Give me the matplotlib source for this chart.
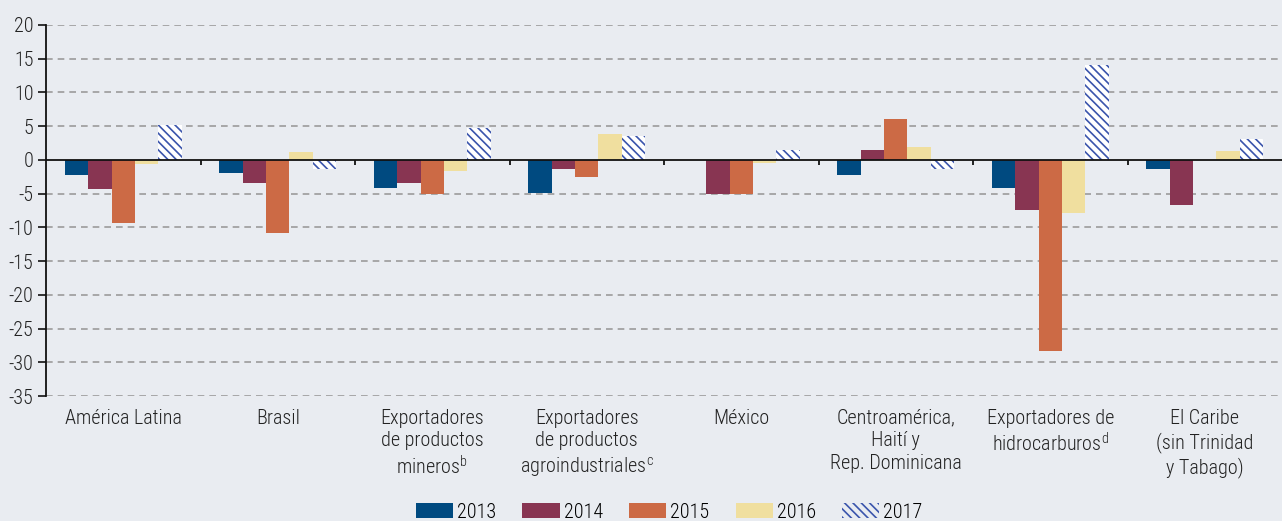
import matplotlib
matplotlib.use("Agg")
import matplotlib.pyplot as plt
import numpy as np

categories = [
    "América Latina",
    "Brasil",
    "Exportadores\nde productos\nmineros$^{\\mathregular{b}}$",
    "Exportadores\nde productos\nagroindustriales$^{\\mathregular{c}}$",
    "México",
    "Centroamérica,\nHaití y\nRep. Dominicana",
    "Exportadores de\nhidrocarburos$^{\\mathregular{d}}$",
    "El Caribe\n(sin Trinidad\ny Tabago)",
]
years = ["2013", "2014", "2015", "2016", "2017"]
v2013 = [-2.3, -2.0, -4.1, -4.9, 0.0, -2.3, -4.1, -1.3]
v2014 = [-4.3, -3.4, -3.4, -1.3, -5.0, 1.4, -7.5, -6.7]
v2015 = [-9.4, -10.9, -5.0, -2.5, -5.0, 6.0, -28.4, 0.0]
v2016 = [-0.6, 1.1, -1.6, 3.9, -0.4, 1.9, -7.9, 1.3]
v2017 = [5.2, -1.3, 4.8, 3.6, 1.5, -1.4, 14.0, 3.1]
yticks = [20, 15, 10, 5, 0, -5, -10, -15, -20, -25, -30, -35]

series = [v2013, v2014, v2015, v2016, v2017]
colors = ["#004A80", "#883552", "#CC6A45", "#F0DF9F", "white"]

FONT = ["Roboto Condensed", "DejaVu Sans"]
plt.rcParams["font.family"] = FONT
plt.rcParams["font.weight"] = "light"
plt.rcParams["hatch.linewidth"] = 1.2

bg = "#E9ECF1"
fig = plt.figure(figsize=(12.82, 5.21), dpi=100, facecolor=bg)
ax = fig.add_axes([46 / 1282, 1 - 396 / 521, 1 - 46 / 1282, 371 / 521])
ax.set_facecolor(bg)

x = np.arange(len(categories))
w = 0.152
for i, (vals, yr, c) in enumerate(zip(series, years, colors)):
    off = (i - 2) * w
    if yr == "2017":
        ax.bar(x + off, vals, w, facecolor=c, edgecolor="#3A55AC", hatch="\\\\\\\\",
               linewidth=0, label=yr, zorder=3)
    else:
        ax.bar(x + off, vals, w, color=c, linewidth=0, label=yr, zorder=3)

ax.set_xlim(-0.5, len(categories) - 0.5)
ax.set_ylim(-35, 20)
ax.set_yticks(yticks)
ax.set_yticklabels([str(t) for t in yticks], fontsize=14.5, color="#222222")
for t in yticks:
    if t != 0:
        ax.axhline(t, color="#9B9B9B", lw=1.2, ls=(0, (4, 3)), zorder=1)
ax.axhline(0, color="#111111", lw=1.3, zorder=4)
ax.vlines(x[:-1] + 0.5, -0.7, 0, color="#111111", lw=1.3, zorder=4)

ax.set_xticks(x)
ax.set_xticklabels(categories, fontsize=14.5, color="#222222", linespacing=1.25)
ax.tick_params(axis="x", length=0, pad=9)
ax.tick_params(axis="y", length=6, width=1.2, color="#111111", pad=3)

for s in ["top", "right", "bottom"]:
    ax.spines[s].set_visible(False)
ax.spines["left"].set_color("#111111")
ax.spines["left"].set_linewidth(1.3)

leg = fig.legend(loc="lower center", bbox_to_anchor=(0.522, -0.036), ncol=5,
                 frameon=False, fontsize=14.5, handlelength=1.85, handleheight=0.8,
                 columnspacing=1.3, handletextpad=0.2)
leg.legend_handles[-1].set_facecolor("none")

fig.savefig("out.png", dpi=100, facecolor=bg)
